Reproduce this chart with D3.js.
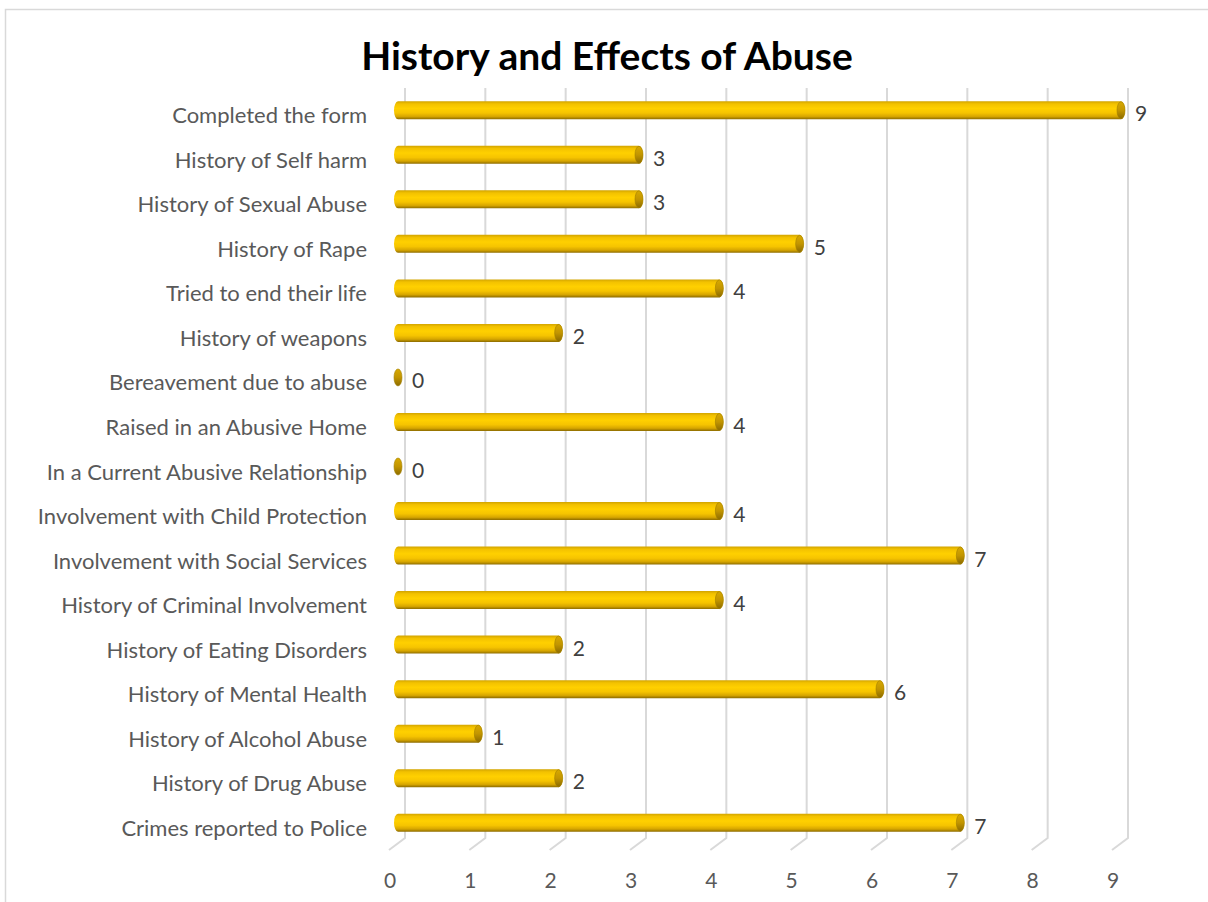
<!DOCTYPE html>
<html>
<head>
<meta charset="utf-8">
<script src="https://cdn.jsdelivr.net/npm/d3@7"></script>
<style>
  body { margin: 0; background: #fff; }
  text { font-family: Lato, "Open Sans", sans-serif; }
</style>
</head>
<body>
<script>
// categories top to bottom, as in the chart
var categories = ["Completed the form", "History of Self harm", "History of Sexual Abuse ",
  "History of Rape", "Tried to end their life", "History of weapons ", "Bereavement due to abuse",
  "Raised in an Abusive Home", "In a Current Abusive Relationship", "Involvement with Child Protection",
  "Involvement with Social Services", "History of Criminal Involvement", "History of Eating Disorders",
  "History of Mental Health", "History of Alcohol Abuse", "History of Drug Abuse", "Crimes reported to Police"]
var values = [9, 3, 3, 5, 4, 2, 0, 4, 0, 4, 7, 4, 2, 6, 1, 2, 7]
var ticks = [0, 1, 2, 3, 4, 5, 6, 7, 8, 9]

var W = 1208, H = 902
var svg = d3.select("body").append("svg")
  .attr("width", W)
  .attr("height", H)

// chart border
svg.append("rect")
  .attr("x", 5.5).attr("y", 9.5)
  .attr("width", 1210).attr("height", 900)
  .attr("fill", "none").attr("stroke", "#d9d9d9").attr("stroke-width", 1.5)

var x = d3.scaleLinear().domain([0, 9]).range([405, 1128])
var y = d3.scaleBand().domain(categories).range([88, 845]).paddingInner(0.6).paddingOuter(0.3)

var defs = svg.append("defs")
var grad = defs.append("linearGradient").attr("id", "cyl")
  .attr("x1", 0).attr("y1", 0).attr("x2", 0).attr("y2", 1)
grad.selectAll("stop").data([
  [0, "#d2a400"], [0.15, "#f3c200"], [0.4, "#ffd000"], [0.65, "#f6c400"], [0.85, "#d6a500"], [1, "#8c6b00"]
]).enter().append("stop")
  .attr("offset", d => d[0]).attr("stop-color", d => d[1])

var capGrad = defs.append("linearGradient").attr("id", "cap")
  .attr("x1", 0).attr("y1", 0).attr("x2", 0).attr("y2", 1)
capGrad.selectAll("stop").data([[0, "#d8a900"], [0.5, "#c29500"], [1, "#8c6b00"]]).enter().append("stop")
  .attr("offset", d => d[0]).attr("stop-color", d => d[1])

// gridlines with slanted floor feet
var gridTop = 88, gridBot = 838
svg.append("g").selectAll("path").data(ticks).enter().append("path")
  .attr("d", d => "M" + x(d) + "," + gridTop + "V" + gridBot + "l-16,12")
  .attr("fill", "none").attr("stroke", "#d9d9d9").attr("stroke-width", 2)

// tick labels
svg.append("g").selectAll("text").data(ticks).enter().append("text")
  .attr("x", d => x(d) - 15).attr("y", 888)
  .attr("text-anchor", "middle")
  .attr("font-size", 21).attr("fill", "#595959")
  .text(d => d)

// category labels
svg.append("g").selectAll("text").data(categories).enter().append("text")
  .attr("x", 367).attr("y", d => y(d) + y.bandwidth() / 2 + 13)
  .attr("text-anchor", "end")
  .attr("font-size", 22).attr("fill", "#595959")
  .text(d => d)

// cylinder bars
var bh = 18
var bars = svg.append("g").selectAll("g").data(categories).enter().append("g")
bars.each(function (c, i) {
  var g = d3.select(this)
  var v = values[i]
  var cy = y(c) + y.bandwidth() / 2
  var x0 = x(0) - 7, x1 = x(v) - 7
  var r = 4
  if (v > 0) {
    g.append("path")
      .attr("d", "M" + x0 + "," + (cy - bh / 2) + "H" + x1 +
        "A" + r + "," + (bh / 2) + " 0 0 1 " + x1 + "," + (cy + bh / 2) +
        "H" + x0 + "A" + r + "," + (bh / 2) + " 0 0 1 " + x0 + "," + (cy - bh / 2) + "Z")
      .attr("fill", "url(#cyl)")
  }
  g.append("ellipse")
    .attr("cx", x1).attr("cy", cy).attr("rx", r).attr("ry", bh / 2 - 0.5)
    .attr("fill", "url(#cap)").attr("stroke", "#a07e00").attr("stroke-width", 0.6)
  g.append("text")
    .attr("x", x1 + 14).attr("y", cy + 11)
    .attr("font-size", 21).attr("fill", "#404040")
    .text(v)
})

// title
svg.append("text")
  .attr("x", 607).attr("y", 70)
  .attr("text-anchor", "middle")
  .attr("font-size", 39).attr("font-weight", "bold").attr("fill", "#000")
  .text("History and Effects of Abuse")
</script>
</body>
</html>
